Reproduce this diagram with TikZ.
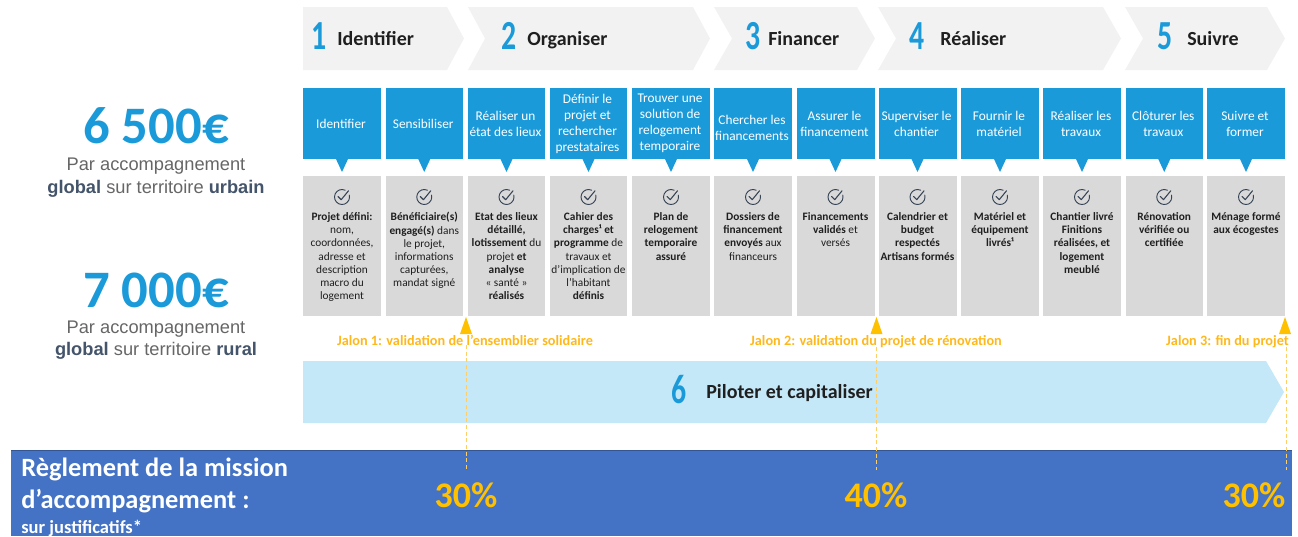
\documentclass[tikz,border=0pt]{standalone}
\usepackage{fontspec}
\usepackage{graphicx}
\setmainfont{Carlito}
\newfontfamily\arialf{Liberation Sans}
\usetikzlibrary{calc}
\definecolor{cblue}{HTML}{1B9AD9}
\definecolor{cgrey}{HTML}{D9D9D9}
\definecolor{cchev}{HTML}{F2F2F2}
\definecolor{clight}{HTML}{C5E8F9}
\definecolor{cband}{HTML}{4472C4}
\definecolor{corange}{HTML}{FFB81C}
\definecolor{cdash}{HTML}{FFCF66}
\definecolor{cpct}{HTML}{FFC000}
\definecolor{cslate}{HTML}{44546A}
\definecolor{cgraytx}{HTML}{666666}
\definecolor{ctext}{HTML}{1F1F1F}
\tikzset{
  x=0.75pt,y=-0.75pt,
  chev/.style={fill=cchev,draw=none},
  bluebox/.style={fill=cblue,draw=none,inner sep=0pt,text=white,align=center,font=\fontsize{10}{12}\selectfont},
  greybox/.style={fill=cgrey,draw=none,inner sep=0pt},
  greytext/.style={inner sep=0pt,align=center,anchor=north,text=ctext,font=\fontsize{8.5}{9.9}\selectfont},
  stepnum/.style={inner sep=0pt,anchor=base,text=cblue,font=\fontsize{31}{31}\selectfont\bfseries},
  steptitle/.style={inner sep=0pt,anchor=base west,text=ctext,font=\fontsize{15}{17}\selectfont\bfseries},
  price/.style={inner sep=0pt,text=cblue,font=\fontsize{39.5}{41}\selectfont\bfseries},
  pricetext/.style={inner sep=0pt,align=center,text=cgraytx,font=\arialf\fontsize{13.7}{17}\selectfont},
  jalon/.style={inner sep=0pt,anchor=base,text=corange,font=\fontsize{10.7}{12}\selectfont\bfseries},
  pct/.style={inner sep=0pt,text=cpct,font=\fontsize{27}{29}\selectfont\bfseries},
  mile/.style={fill=cpct,draw=none},
  milel/.style={draw=cdash,line width=0.7pt,densely dashed},
  chk/.pic={
    \draw[cslate!80!black,line width=0.7pt,line cap=round] (0,0) ++(-65:7.5) arc[start angle=-65,end angle=-375,radius=7.5];
    \draw[cslate!80!black,line width=0.8pt,line cap=round,line join=round] (-4,-0.5) -- (-0.8,2.7) -- (6.5,-6.2);
  }
}
\newcommand{\NUM}[1]{\scalebox{.72}[1]{#1}}
\newcommand{\SB}[1]{\textcolor{cslate}{\textbf{#1}}}
\newcommand{\chevron}[5]{% name, left, notch(or left), shoulder, tip
  \fill[chev] (#2,7) -- (#4,7) -- (#5,38.5) -- (#4,70) -- (#2,70) -- (#3,38.5) -- cycle;
  \coordinate (#1) at (#2,38.5);
}
\newcommand{\card}[6]{% id, x0, x1, yshift blue, blue text, grey text
  \pgfmathsetmacro{\cx}{(#2+#3)/2}
  \pgfmathsetmacro{\cw}{(#3-#2)*0.75}
  \node[bluebox,minimum width=\cw pt,minimum height=53.25pt] (b#1) at (\cx,123.5) {};
  \fill[cblue] (\cx-6.5,158) -- (\cx+6.5,158) -- (\cx,172) -- cycle;
  \node[bluebox] (bt#1) at (\cx-1,123.5+#4) {#5};
  \node[greybox,minimum width=\cw pt,minimum height=105pt] (g#1) at (\cx,246) {};
  \pic at (\cx,197) {chk};
  \node[greytext] (gt#1) at (\cx,212.3) {#6};
}
\begin{document}
\begin{tikzpicture}
\useasboundingbox (0,0) rectangle (1298,536);
% chevrons
\fill[chev] (303,7) -- (447,7) -- (464,38.5) -- (447,70) -- (303,70) -- cycle;
\chevron{c2}{468}{485}{693}{710}
\chevron{c3}{714}{732}{857}{875}
\chevron{c4}{878}{896}{1103}{1121}
\chevron{c5}{1125}{1143}{1267}{1285}
\node[stepnum] (n1) at (319,49) {\NUM{1}};
\node[steptitle] (t1) at (337,45) {Identifier};
\node[stepnum] (n2) at (509,49) {\NUM{2}};
\node[steptitle] (t2) at (527,45) {Organiser};
\node[stepnum] (n3) at (753,49) {\NUM{3}};
\node[steptitle] (t3) at (768,45) {Financer};
\node[stepnum] (n4) at (917,49) {\NUM{4}};
\node[steptitle] (t4) at (940,45) {Réaliser};
\node[stepnum] (n5) at (1165,49) {\NUM{5}};
\node[steptitle] (t5) at (1187,45) {Suivre};
% cards
\card{1}{303}{381}{0}{Identifier}{\textbf{Projet défini:}\\nom,\\coordonnées,\\adresse et\\description\\macro du\\logement}
\card{2}{385.5}{463}{0}{Sensibiliser}{\textbf{Bénéficiaire(s)}\\\textbf{engagé(s)} dans\\le projet,\\informations\\capturées,\\mandat signé}
\card{3}{468}{545}{0}{Réaliser un\\état des lieux}{\textbf{Etat des lieux}\\\textbf{détaillé,}\\\textbf{lotissement} du\\projet \textbf{et}\\\textbf{analyse}\\« santé »\\\textbf{réalisés}}
\card{4}{550}{627}{0}{Définir le\\projet et\\rechercher\\prestataires}{\textbf{Cahier des}\\\textbf{charges¹ et}\\\textbf{programme} de\\travaux et\\d’implication de\\l’habitant\\\textbf{définis}}
\card{5}{632}{710}{0}{Trouver une\\solution de\\relogement\\temporaire}{\textbf{Plan de}\\\textbf{relogement}\\\textbf{temporaire}\\\textbf{assuré}}
\card{6}{714}{792}{4}{Chercher les\\financements}{\textbf{Dossiers de}\\\textbf{financement}\\\textbf{envoyés} aux\\financeurs}
\card{7}{796.5}{874.5}{0}{Assurer le\\financement}{\textbf{Financements}\\\textbf{validés} et\\versés}
\card{8}{878.5}{956.5}{0}{Superviser le\\chantier}{\textbf{Calendrier et}\\\textbf{budget}\\\textbf{respectés}\\\textbf{Artisans formés}}
\card{9}{961}{1039}{0}{Fournir le\\matériel}{\textbf{Matériel et}\\\textbf{équipement}\\\textbf{livrés¹}}
\card{10}{1043}{1121}{0}{Réaliser les\\travaux}{\textbf{Chantier livré}\\\textbf{Finitions}\\\textbf{réalisées, et}\\\textbf{logement}\\\textbf{meublé}}
\card{11}{1125.5}{1203}{0}{Clôturer les\\travaux}{\textbf{Rénovation}\\\textbf{vérifiée ou}\\\textbf{certifiée}}
\card{12}{1207}{1285}{0}{Suivre et\\former}{\textbf{Ménage formé}\\\textbf{aux écogestes}}
% left column
\node[price] (p1) at (156,126) {6 500€};
\node[pricetext] (pt1) at (156,177.5) {Par accompagnement\\\SB{global} sur territoire \SB{urbain}};
\node[price] (p2) at (156,290) {7 000€};
\node[pricetext] (pt2) at (156,340) {Par accompagnement\\\SB{global} sur territoire \SB{rural}};
% piloter
\fill[clight] (303,361) -- (1266,361) -- (1284,392) -- (1266,423) -- (303,423) -- cycle;
% band
\fill[cband] (11,450) rectangle (1292,536);
\draw[cband!75!black,line width=0.5pt] (11,450) -- (1292,450);
% milestones
\coordinate (m1) at (466,345); \coordinate (m1e) at (466,470);
\coordinate (m2) at (876.5,347); \coordinate (m2e) at (876.5,470);
\coordinate (m3) at (1286,347); \coordinate (m3e) at (1286,470);
\draw[milel] (m1) -- (m1e);
\draw[milel] (m2) -- (m2e);
\draw[milel] (m3) -- (m3e);
\fill[mile] (460,334) -- (472,334) -- (466,317) -- cycle;
\fill[mile] (870.5,334) -- (882.5,334) -- (876.5,317) -- cycle;
\fill[mile] (1279,334) -- (1291,334) -- (1285,317) -- cycle;
\node[jalon] (j1) at (465,345) {Jalon 1: validation de l’ensemblier solidaire};
\node[jalon] (j2) at (876,345) {Jalon 2: validation du projet de rénovation};
\node[jalon,anchor=base east] (j3) at (1289,345) {Jalon 3: fin du projet};
\node[stepnum] (n6) at (679,403) {\NUM{6}};
\node[steptitle] (t6) at (706,398) {Piloter et capitaliser};
\node[pct] (pc1) at (466,495) {30\%};
\node[pct] (pc2) at (876,495) {40\%};
\node[pct] (pc3) at (1254,495) {30\%};
\node[inner sep=0pt,anchor=base west,text=white,font=\fontsize{19.8}{22}\selectfont\bfseries] (r1) at (21,476.5) {Règlement de la mission};
\node[inner sep=0pt,anchor=base west,text=white,font=\fontsize{19.8}{22}\selectfont\bfseries] (r2) at (21,508.5) {d’accompagnement :};
\node[inner sep=0pt,anchor=base west,text=white,font=\fontsize{13.9}{15}\selectfont\bfseries] (r3) at (21,533) {sur justificatifs*};
\end{tikzpicture}
\end{document}
